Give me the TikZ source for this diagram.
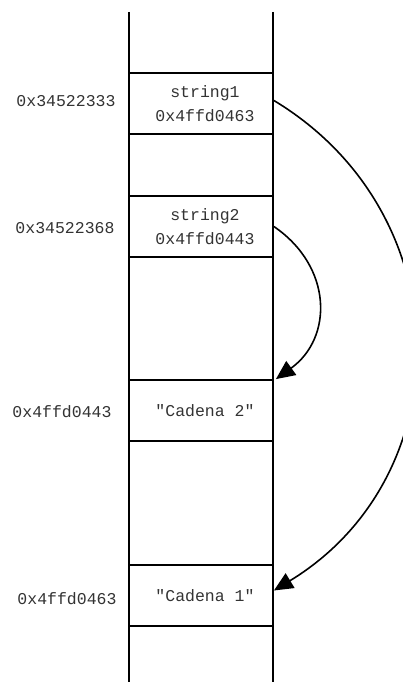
\documentclass[tikz,border=0pt]{standalone}
\usepackage{fontspec}
\setmonofont{Liberation Mono}
\usetikzlibrary{arrows.meta}
\begin{document}
\begin{tikzpicture}[x=1pt,y=-1pt,
  cell/.style={draw, line width=1.8pt, minimum width=144pt, minimum height=61pt,
    inner sep=0pt, align=center, text=black!80,
    font=\ttfamily\fontsize{16.5}{24}\selectfont},
  addr/.style={text=black!80, font=\ttfamily\fontsize{16.5}{20}\selectfont},
  rail/.style={line width=1.8pt},
  ptr/.style={line width=1.6pt, -{Triangle[length=19pt,width=17pt]}}
]
\useasboundingbox (0,0) rectangle (403,682);

% memory column
\coordinate (lt) at (129,12);  \coordinate (lb) at (129,682);
\coordinate (rt) at (273,12);  \coordinate (rb) at (273,682);
\draw[rail] (lt) -- (lb);
\draw[rail] (rt) -- (rb);

% memory cells
\node[cell] (s1) at (201,103.5) {\hspace*{8pt}string1\\\hspace*{8pt}0x4ffd0463};
\node[cell] (s2) at (201,226.5) {\hspace*{8pt}string2\\\hspace*{8pt}0x4ffd0443};
\node[cell] (c2) at (201,410.5) {\hspace*{8pt}"Cadena 2"};
\node[cell] (c1) at (201,595.5) {\hspace*{8pt}"Cadena 1"};

% addresses
\node[addr] (a1) at (66,101)  {0x34522333};
\node[addr] (a2) at (65,228)  {0x34522368};
\node[addr] (a3) at (62,412)  {0x4ffd0443};
\node[addr] (a4) at (67,599)  {0x4ffd0463};

% pointers
\draw[ptr] ([yshift=3pt]s1.east) .. controls (462,214) and (462,476) .. ([yshift=5pt]c1.east);
\draw[ptr] (s2.east) .. controls (333,267) and (333,338) .. ([xshift=2pt]c2.north east);
\end{tikzpicture}
\end{document}
